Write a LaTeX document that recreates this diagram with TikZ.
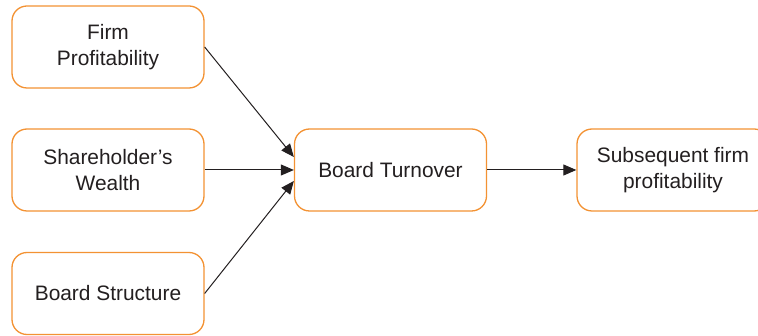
\documentclass[tikz,border=0pt]{standalone}
\usepackage{fontspec}
\setmainfont{Liberation Sans}
\usetikzlibrary{arrows.meta}
\definecolor{boxorange}{RGB}{243,146,51}
\definecolor{ink}{RGB}{35,31,32}
\tikzset{
  factor/.style={draw=boxorange, line width=1.3pt, rounded corners=15pt,
    minimum width=192pt, minimum height=82pt, align=center, text=ink,
    font=\fontsize{20.9}{25.5}\selectfont, fill=white},
  link/.style={draw=ink, line width=1pt, -{Triangle[length=13pt,width=11pt]}}
}
\begin{document}
\begin{tikzpicture}[x=1pt,y=-1pt]
  \useasboundingbox (0,0) rectangle (758,336);
  \clip (0,0) rectangle (758,336);
  \node[factor] (firm)  at (108,47)    {Firm\\Profitability};
  \node[factor] (share) at (108,170)   {Shareholder’s\\Wealth};
  \node[factor] (board) at (108,293.5) {Board Structure};
  \node[factor] (turn)  at (390.5,170) {Board Turnover};
  \node[factor] (next)  at (673,170)   {Subsequent firm\\profitability};
  \draw[link] (firm.east) -- ([yshift=13pt]turn.west);
  \draw[link] (share.east) -- (turn.west);
  \draw[link] (board.east) -- ([yshift=-11pt]turn.west);
  \draw[link] (turn.east) -- (next.west);
\end{tikzpicture}
\end{document}
